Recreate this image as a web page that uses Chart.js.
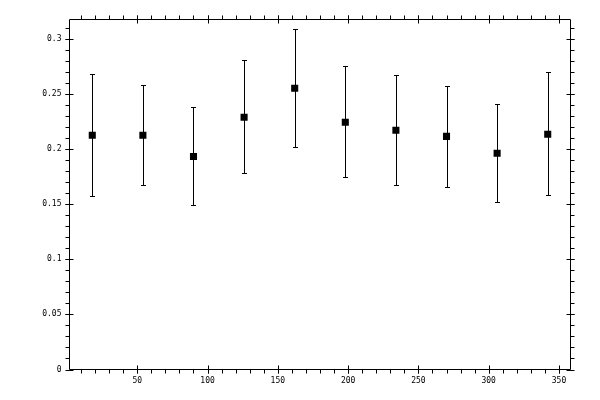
<!DOCTYPE html>
<html>
<head>
<meta charset="utf-8">
<script src="https://cdn.jsdelivr.net/npm/chart.js@4"></script>
<style>
  html, body { margin: 0; padding: 0; background: #fff; }
  #wrap { width: 600px; height: 400px; }
</style>
</head>
<body>
<div id="wrap"><canvas id="myChart"></canvas></div>
<script>
// bin centres (degrees) and measured values with their error bars
let angles = [18, 54, 90, 126, 162, 198, 234, 270, 306, 342];
let values = [0.2125, 0.2125, 0.1933, 0.2288, 0.2552, 0.2243, 0.217, 0.2115, 0.1961, 0.2134];
let errHigh = [0.268, 0.2579, 0.2379, 0.2806, 0.3088, 0.2752, 0.267, 0.257, 0.2406, 0.2697];
let errLow = [0.1573, 0.167, 0.149, 0.178, 0.2015, 0.1745, 0.167, 0.1652, 0.1515, 0.1582];

let xMajor = [50, 100, 150, 200, 250, 300, 350];
let yMajor = [0, 0.05, 0.1, 0.15, 0.2, 0.25, 0.3];

const ctx = document.getElementById("myChart");

// error bars, frame and ticks drawn on top of the library's scales
const frame = {
  id: "frame",
  beforeDatasetsDraw(chart) {
    const c = chart.ctx;
    const x = chart.scales.x;
    const y = chart.scales.y;
    c.save();
    c.strokeStyle = "#000";
    c.lineWidth = 1;
    c.beginPath();
    angles.forEach((a, i) => {
      const px = Math.round(x.getPixelForValue(a)) + 0.5;
      const top = Math.round(y.getPixelForValue(errHigh[i])) + 0.5;
      const bot = Math.round(y.getPixelForValue(errLow[i])) + 0.5;
      c.moveTo(px, top);
      c.lineTo(px, bot);
      c.moveTo(px - 2.5, top);
      c.lineTo(px + 2.5, top);
      c.moveTo(px - 2.5, bot);
      c.lineTo(px + 2.5, bot);
    });
    c.stroke();
    c.restore();
  },
  afterDraw(chart) {
    const c = chart.ctx;
    const a = chart.chartArea;
    const x = chart.scales.x;
    const y = chart.scales.y;
    c.save();
    c.strokeStyle = "#000";
    c.lineWidth = 1;
    c.beginPath();
    c.rect(a.left, a.top, a.right - a.left, a.bottom - a.top);
    // minor ticks, outward
    for (let v = 10; v <= 350; v += 10) {
      const px = Math.round(x.getPixelForValue(v)) + 0.5;
      c.moveTo(px, a.bottom);
      c.lineTo(px, a.bottom + 4);
      c.moveTo(px, a.top);
      c.lineTo(px, a.top - 4);
    }
    for (let k = 1; k <= 31; k++) {
      const py = Math.round(y.getPixelForValue(k / 100)) + 0.5;
      c.moveTo(a.left, py);
      c.lineTo(a.left - 4, py);
      c.moveTo(a.right, py);
      c.lineTo(a.right + 4, py);
    }
    // major ticks cross the frame
    xMajor.forEach((v) => {
      const px = Math.round(x.getPixelForValue(v)) + 0.5;
      c.moveTo(px, a.bottom - 4);
      c.lineTo(px, a.bottom + 4);
      c.moveTo(px, a.top - 4);
      c.lineTo(px, a.top + 4);
    });
    yMajor.forEach((v) => {
      const py = Math.round(y.getPixelForValue(v)) + 0.5;
      c.moveTo(a.left - 4, py);
      c.lineTo(a.left + 4, py);
      c.moveTo(a.right - 4, py);
      c.lineTo(a.right + 4, py);
    });
    c.stroke();
    c.restore();
  },
};

new Chart(ctx, {
  type: "scatter",
  data: {
    datasets: [
      {
        data: angles.map((a, i) => ({ x: a, y: values[i] })),
        pointStyle: "rect",
        pointRadius: 5,
        pointHoverRadius: 5,
        borderWidth: 0,
        backgroundColor: "#000",
        borderColor: "#000",
      },
    ],
  },
  options: {
    responsive: true,
    maintainAspectRatio: false,
    animation: false,
    devicePixelRatio: 1,
    layout: { padding: { top: 19.5, right: 29.5, left: 0, bottom: 0 } },
    plugins: { legend: { display: false }, tooltip: { enabled: false } },
    scales: {
      x: {
        type: "linear",
        min: 1.8,
        max: 358.2,
        grid: { display: false, drawTicks: false },
        border: { display: false },
        afterFit: (s) => { s.height = 30.5; },
        ticks: {
          stepSize: 50,
          includeBounds: false,
          maxRotation: 0,
          padding: 7,
          color: "#000",
          font: { family: "DejaVu Sans Mono", size: 8 },
        },
      },
      y: {
        min: 0,
        max: 0.3175,
        grid: { display: false, drawTicks: false },
        border: { display: false },
        afterFit: (s) => { s.width = 69.5; },
        ticks: {
          stepSize: 0.05,
          includeBounds: false,
          padding: 8,
          color: "#000",
          font: { family: "DejaVu Sans Mono", size: 8 },
          callback: (v) => String(Number(v.toFixed(2))),
        },
      },
    },
  },
  plugins: [frame],
});
</script>
</body>
</html>
